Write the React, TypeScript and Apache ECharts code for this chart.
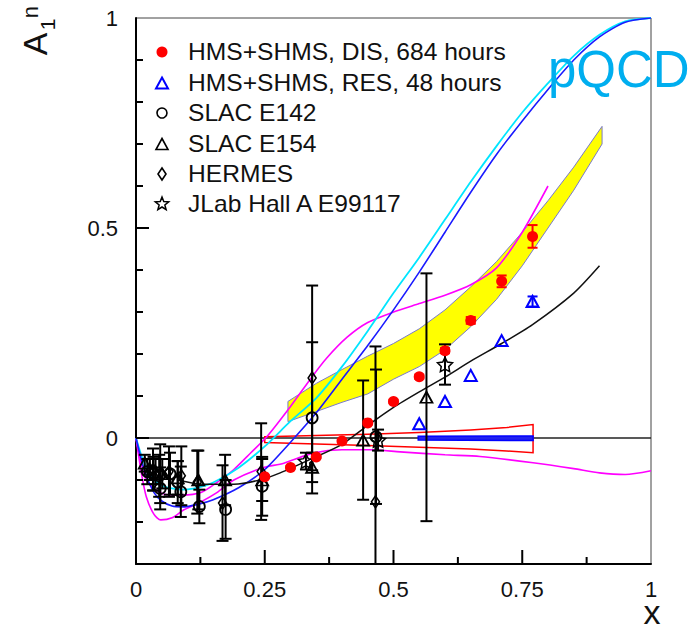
import React, { useEffect, useRef } from "react";
import * as echarts from "echarts";

const FONT = "'Liberation Sans', Arial, Helvetica, sans-serif";
const YMIN = -0.3;
const YMAX = 1;

// ---- theory curves ----
const cyanX = [0, 0.01, 0.02, 0.035, 0.05, 0.07, 0.09, 0.12, 0.15, 0.2, 0.25, 0.3, 0.35, 0.4, 0.45, 0.5, 0.55, 0.6, 0.65, 0.7, 0.75, 0.8, 0.85, 0.9, 0.95, 1.0];
const cyanY = [0, -0.04, -0.07, -0.1, -0.113, -0.12, -0.123, -0.118, -0.106, -0.07, -0.02, 0.04, 0.095, 0.17, 0.255, 0.345, 0.43, 0.52, 0.61, 0.695, 0.775, 0.845, 0.91, 0.96, 0.992, 1.0];
const blueX = [0, 0.01, 0.02, 0.035, 0.05, 0.07, 0.09, 0.12, 0.15, 0.2, 0.25, 0.3, 0.35, 0.4, 0.45, 0.5, 0.55, 0.6, 0.65, 0.7, 0.75, 0.8, 0.85, 0.9, 0.95, 1.0];
const blueY = [0, -0.05, -0.09, -0.13, -0.15, -0.162, -0.164, -0.158, -0.147, -0.118, -0.075, -0.01, 0.06, 0.14, 0.22, 0.305, 0.395, 0.49, 0.585, 0.675, 0.755, 0.83, 0.9, 0.955, 0.99, 1.0];
const magUpX = [0, 0.01, 0.02, 0.04, 0.06, 0.09, 0.126, 0.157, 0.19, 0.223, 0.254, 0.3, 0.342, 0.37, 0.41, 0.45, 0.5, 0.55, 0.6, 0.65, 0.7, 0.75, 0.8];
const magUpY = [0, -0.06, -0.1, -0.125, -0.135, -0.136, -0.13, -0.106, -0.075, -0.035, 0.003, 0.075, 0.146, 0.19, 0.24, 0.275, 0.3, 0.32, 0.34, 0.365, 0.405, 0.49, 0.6];
const magLoX = [0, 0.01, 0.02, 0.035, 0.048, 0.07, 0.093, 0.126, 0.157, 0.19, 0.243, 0.287, 0.344, 0.4, 0.454, 0.513, 0.6, 0.668, 0.771, 0.85, 0.9, 0.95, 1.0];
const magLoY = [0, -0.08, -0.14, -0.182, -0.195, -0.19, -0.171, -0.152, -0.13, -0.1, -0.072, -0.06, -0.036, -0.028, -0.028, -0.033, -0.04, -0.044, -0.059, -0.073, -0.083, -0.087, -0.078];
const fitX = [0.08, 0.13, 0.19, 0.24, 0.28, 0.34, 0.4, 0.45, 0.5, 0.55, 0.6, 0.65, 0.71, 0.77, 0.85, 0.9];
const fitY = [-0.1, -0.11, -0.11, -0.1, -0.083, -0.05, -0.015, 0.03, 0.073, 0.11, 0.145, 0.183, 0.225, 0.27, 0.345, 0.41];

// ---- bands ----
const bandX = [0.295, 0.35, 0.4, 0.45, 0.5, 0.55, 0.6, 0.65, 0.7, 0.75, 0.8, 0.85, 0.905];
const bandHi = [0.087, 0.13, 0.163, 0.195, 0.225, 0.26, 0.305, 0.36, 0.42, 0.49, 0.565, 0.645, 0.742];
const bandLo = [0.039, 0.063, 0.085, 0.105, 0.14, 0.17, 0.21, 0.265, 0.33, 0.41, 0.5, 0.59, 0.7];
const redBandX = [0.25, 0.35, 0.45, 0.55, 0.65, 0.72, 0.771];
const redBandHi = [0.003, 0.006, 0.009, 0.013, 0.019, 0.025, 0.032];
const redBandLo = [-0.011, -0.014, -0.018, -0.022, -0.026, -0.031, -0.035];
const blueBandX = [0.548, 0.771];
const blueBandHi = [0.004, 0.005];
const blueBandLo = [-0.005, -0.006];

// ---- data points ----
const disX = [0.25, 0.3, 0.35, 0.4, 0.45, 0.5, 0.55, 0.6, 0.65, 0.71, 0.77];
const disY = [-0.092, -0.07, -0.045, -0.007, 0.036, 0.087, 0.146, 0.208, 0.28, 0.373, 0.48];
const disE = [0.003, 0.003, 0.003, 0.003, 0.004, 0.004, 0.005, 0.006, 0.008, 0.014, 0.027];
const resX = [0.55, 0.6, 0.65, 0.71, 0.77];
const resY = [0.034, 0.087, 0.149, 0.232, 0.325];
const resE = [0, 0, 0, 0, 0.012];
const e142X = [0.022, 0.034, 0.045, 0.047, 0.066, 0.081, 0.087, 0.123, 0.174, 0.245, 0.342, 0.466];
const e142Y = [-0.08, -0.085, -0.09, -0.12, -0.085, -0.105, -0.128, -0.163, -0.17, -0.115, 0.048, 0.003];
const e142E = [0.03, 0.04, 0.05, 0.05, 0.05, 0.05, 0.06, 0.04, 0.07, 0.07, 0.18, 0.16];
const e154X = [0.017, 0.027, 0.038, 0.051, 0.081, 0.121, 0.173, 0.245, 0.342, 0.441, 0.564];
const e154Y = [-0.06, -0.075, -0.08, -0.085, -0.095, -0.1, -0.1, -0.1, -0.07, -0.005, 0.097];
const e154E = [0.02, 0.025, 0.03, 0.035, 0.04, 0.07, 0.06, 0.05, 0.035, 0.142, 0.295];
const hermesX = [0.033, 0.047, 0.064, 0.088, 0.119, 0.168, 0.243, 0.342, 0.465];
const hermesY = [-0.075, -0.085, -0.08, -0.09, -0.105, -0.155, -0.08, 0.143, -0.152];
const hermesE = [0.05, 0.07, 0.06, 0.07, 0.075, 0.09, 0.115, 0.22, 0.37];
const jlabX = [0.33, 0.47, 0.6];
const jlabY = [-0.055, -0.005, 0.175];
const jlabE = [0.02, 0.025, 0.048];

// ---- axis ticks ----
const xMajorTicks = [0.25, 0.5, 0.75];
const xMinorTicks = [0.125, 0.375, 0.625, 0.875];
const yMajorTicks = [0, 0.5];
const yMinorTicks = [-0.2, -0.1, 0.1, 0.2, 0.3, 0.4, 0.6, 0.7, 0.8, 0.9];

const legendLabels = [
  "HMS+SHMS, DIS, 684 hours",
  "HMS+SHMS, RES, 48 hours",
  "SLAC E142",
  "SLAC E154",
  "HERMES",
  "JLab Hall A E99117",
];

const zip = (xs: number[], ys: number[]) => xs.map((x, i) => [x, ys[i]]);
const zip3 = (xs: number[], ys: number[], es: number[]) => xs.map((x, i) => [x, ys[i], es[i]]);

const STAR = "path://M0,-10L2.94,-4.05L9.51,-3.09L4.76,1.55L5.88,8.09L0,5L-5.88,8.09L-4.76,1.55L-9.51,-3.09L-2.94,-4.05Z";

function starPoints(cx: number, cy: number, ro: number, ri: number) {
  const pts: number[][] = [];
  for (let i = 0; i < 10; i++) {
    const r = i % 2 === 0 ? ro : ri;
    const a = -Math.PI / 2 + (i * Math.PI) / 5;
    pts.push([cx + r * Math.cos(a), cy + r * Math.sin(a)]);
  }
  return pts;
}

function lineSeries(xs: number[], ys: number[], color: string, width: number) {
  return {
    type: "line",
    data: zip(xs, ys),
    smooth: 0.25,
    showSymbol: false,
    silent: true,
    lineStyle: { color, width },
    z: 3,
  };
}

function bandSeries(xs: number[], hi: number[], lo: number[], fill: string, stroke: string, lw: number, z: number) {
  return {
    type: "custom",
    data: [[xs[0], hi[0]]],
    encode: { x: 0, y: 1 },
    silent: true,
    z,
    renderItem: (_p: any, api: any) => {
      const up = xs.map((x, i) => api.coord([x, hi[i]]));
      const dn = xs.map((x, i) => api.coord([x, lo[i]])).reverse();
      return {
        type: "polygon",
        shape: { points: up.concat(dn) },
        style: { fill, stroke, lineWidth: lw },
      };
    },
  };
}

// tick marks (inside the frame), major longer than minor
function tickSeries() {
  return {
    type: "custom",
    data: [[0.5, 0.35]],
    encode: { x: 0, y: 1 },
    silent: true,
    z: 20,
    renderItem: (_p: any, api: any) => {
      const children: any[] = [];
      const w = 1;
      const xt = (v: number, len: number) => {
        const p = api.coord([v, YMIN]);
        children.push({ type: "rect", shape: { x: p[0] - w, y: p[1] - len, width: 2 * w, height: len }, style: { fill: "#000" } });
      };
      const yt = (v: number, len: number) => {
        const p = api.coord([0, v]);
        children.push({ type: "rect", shape: { x: p[0], y: p[1] - w, width: len, height: 2 * w }, style: { fill: "#000" } });
      };
      xMajorTicks.forEach((v) => xt(v, 14));
      xMinorTicks.forEach((v) => xt(v, 7));
      yMajorTicks.forEach((v) => yt(v, 13));
      yMinorTicks.forEach((v) => yt(v, 7));
      return { type: "group", children };
    },
  };
}

function errSeries(xs: number[], ys: number[], es: number[], color: string, cap: number) {
  return {
    type: "custom",
    data: zip3(xs, ys, es),
    encode: { x: 0, y: 1 },
    silent: true,
    z: 4,
    renderItem: (_p: any, api: any) => {
      const x = api.value(0);
      const y = api.value(1);
      const e = api.value(2);
      if (!(e > 0)) return { type: "group", children: [] };
      const lo = Math.max(y - e, YMIN);
      const hi = Math.min(y + e, YMAX);
      const t = api.coord([x, hi]);
      const b = api.coord([x, lo]);
      const st = { stroke: color, lineWidth: 2 };
      const children: any[] = [
        { type: "line", shape: { x1: t[0], y1: t[1], x2: b[0], y2: b[1] }, style: st },
        { type: "line", shape: { x1: t[0] - cap / 2, y1: t[1], x2: t[0] + cap / 2, y2: t[1] }, style: st },
      ];
      if (y - e > YMIN) {
        children.push({ type: "line", shape: { x1: b[0] - cap / 2, y1: b[1], x2: b[0] + cap / 2, y2: b[1] }, style: st });
      }
      return { type: "group", children };
    },
  };
}

function markerSeries(xs: number[], ys: number[], symbol: string, size: any, fill: string, stroke: string, bw: number) {
  return {
    type: "scatter",
    data: zip(xs, ys),
    symbol,
    symbolSize: size,
    symbolKeepAspect: true,
    silent: true,
    z: 5,
    itemStyle: { color: fill, borderColor: stroke, borderWidth: bw, opacity: 1 },
  };
}

export default function App() {
  const ref = useRef<HTMLDivElement>(null);
  useEffect(() => {
    const chart = echarts.init(ref.current!, null, { renderer: "svg" });
    const lx = 162;
    const rows = [52, 83, 113, 144, 174, 204];
    const tri = (cx: number, cy: number, w: number, h: number) => [
      [cx, cy - h / 2],
      [cx + w / 2, cy + h / 2],
      [cx - w / 2, cy + h / 2],
    ];
    const graphic: any[] = [
      { type: "circle", shape: { cx: lx, cy: rows[0], r: 5.5 }, style: { fill: "#ff0000" }, z: 10 },
      { type: "polygon", shape: { points: tri(lx, rows[1], 12, 11) }, style: { fill: "none", stroke: "#0000ff", lineWidth: 2 }, z: 10 },
      { type: "circle", shape: { cx: lx, cy: rows[2], r: 5 }, style: { fill: "none", stroke: "#000", lineWidth: 1.6 }, z: 10 },
      { type: "polygon", shape: { points: tri(lx, rows[3], 12, 11) }, style: { fill: "none", stroke: "#000", lineWidth: 1.6 }, z: 10 },
      { type: "polygon", shape: { points: [[lx, rows[4] - 6], [lx + 4, rows[4]], [lx, rows[4] + 6], [lx - 4, rows[4]]] }, style: { fill: "none", stroke: "#000", lineWidth: 1.6 }, z: 10 },
      { type: "polygon", shape: { points: starPoints(lx, rows[5], 7, 3) }, style: { fill: "none", stroke: "#000", lineWidth: 1.5 }, z: 10 },
      ...legendLabels.map((t, i) => ({
        type: "text",
        x: 188,
        y: rows[i],
        scaleX: 1.07,
        z: 10,
        style: { text: t, fontSize: 23, fontFamily: FONT, fill: "#111", align: "left", verticalAlign: "middle" },
      })),
      {
        type: "text", x: 35, y: 44, rotation: Math.PI / 2, z: 10,
        style: { text: "A", fontSize: 34, fontFamily: FONT, fill: "#111", align: "center", verticalAlign: "middle" },
      },
      {
        type: "text", x: 47.5, y: 24.5, rotation: Math.PI / 2, z: 10,
        style: { text: "1", fontSize: 21, fontFamily: FONT, fill: "#111", align: "center", verticalAlign: "middle" },
      },
      {
        type: "text", x: 30, y: 12, rotation: Math.PI / 2, z: 10,
        style: { text: "n", fontSize: 22, fontFamily: FONT, fill: "#111", align: "center", verticalAlign: "middle" },
      },
      {
        type: "text", x: 652, y: 612, z: 10,
        style: { text: "x", fontSize: 34, fontFamily: FONT, fill: "#111", align: "center", verticalAlign: "middle" },
      },
      {
        type: "text", x: 548, y: 69, z: 10,
        style: { text: "pQCD", fontSize: 51, fontFamily: FONT, fill: "#00aeef", align: "left", verticalAlign: "middle" },
      },
    ];

    const option: any = {
      animation: false,
      backgroundColor: "#ffffff",
      grid: { left: 136, top: 18, width: 515, height: 546, show: true, borderColor: "#444", borderWidth: 1, backgroundColor: "transparent" },
      xAxis: [
        {
          type: "value", min: 0, max: 1, interval: 0.25, position: "bottom",
          axisLine: { show: true, onZero: false, lineStyle: { color: "#000", width: 2 } },
          axisTick: { show: false },
          minorTick: { show: false },
          splitLine: { show: false },
          axisLabel: { show: true, fontSize: 22, color: "#111", fontFamily: FONT, margin: 14 },
        },
      ],
      yAxis: [
        {
          type: "value", min: YMIN, max: YMAX, interval: 0.1, position: "left",
          axisLine: { show: true, onZero: false, lineStyle: { color: "#000", width: 2 } },
          axisTick: { show: false },
          splitLine: { show: false },
          axisLabel: {
            show: true, fontSize: 22, color: "#111", fontFamily: FONT, margin: 18,
            formatter: (v: number) => (Math.abs(v) < 1e-6 ? "0" : Math.abs(v - 0.5) < 1e-6 ? "0.5" : Math.abs(v - 1) < 1e-6 ? "1" : ""),
          },
        },
      ],
      graphic,
      series: [
        bandSeries(bandX, bandHi, bandLo, "#ffff00", "#7a7acc", 1, 1),
        {
          type: "line", data: [[0, 0], [1, 0]], showSymbol: false, silent: true, z: 2,
          lineStyle: { color: "#222", width: 1.5 },
        },
        lineSeries(magLoX, magLoY, "#ff00ff", 1.6),
        lineSeries(magUpX, magUpY, "#ff00ff", 1.6),
        lineSeries(cyanX, cyanY, "#00e5ff", 1.8),
        lineSeries(blueX, blueY, "#1a1aff", 1.6),
        lineSeries(fitX, fitY, "#111", 1.5),
        bandSeries(redBandX, redBandHi, redBandLo, "none", "#ff0000", 1.5, 3),
        bandSeries(blueBandX, blueBandHi, blueBandLo, "#2222ee", "#0000ff", 1.5, 3),
        errSeries(e142X, e142Y, e142E, "#000", 12),
        errSeries(e154X, e154Y, e154E, "#000", 12),
        errSeries(hermesX, hermesY, hermesE, "#000", 12),
        errSeries(jlabX, jlabY, jlabE, "#000", 12),
        errSeries(disX, disY, disE, "#ff0000", 10),
        errSeries(resX, resY, resE, "#0000ff", 10),
        markerSeries(e142X, e142Y, "circle", 11, "rgba(0,0,0,0)", "#000", 1.8),
        markerSeries(e154X, e154Y, "triangle", [12, 11], "rgba(0,0,0,0)", "#000", 1.8),
        markerSeries(hermesX, hermesY, "diamond", [8, 12], "rgba(0,0,0,0)", "#000", 1.6),
        markerSeries(jlabX, jlabY, STAR, 15, "rgba(0,0,0,0)", "#000", 1.5),
        markerSeries(resX, resY, "triangle", [12, 11], "rgba(0,0,0,0)", "#0000ff", 2),
        markerSeries(disX, disY, "circle", 11, "#ff0000", "#ff0000", 0),
        tickSeries(),
      ],
    };
    chart.setOption(option);
    return () => chart.dispose();
  }, []);
  return <div ref={ref} style={{ position: "absolute", left: 0, top: 0, width: 693, height: 631, background: "#fff" }} />;
}
